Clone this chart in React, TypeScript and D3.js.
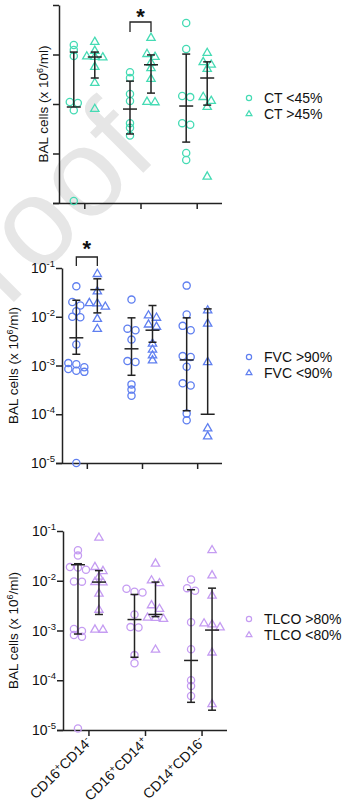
import React, { useEffect, useRef } from "react";
import * as d3 from "d3";

// categories on the x axis (text, superscript, text, superscript)
const categories = ["CD16+CD14-", "CD16+CD14+", "CD14+CD16-"];
const categoryParts = [
  ["CD16", "+", "CD14", "-"],
  ["CD16", "+", "CD14", "+"],
  ["CD14", "+", "CD16", "-"],
];
const yTicks = [1e-5, 1e-4, 1e-3, 1e-2, 1e-1];
const yTickExp = ["-5", "-4", "-3", "-2", "-1"];

// CT panel
const ctLowValues = [
  [0.0156, 0.0123, 0.0093, 0.0011, 0.00105, 0.00075, 0.000011],
  [0.0044, 0.00335, 0.00159, 0.00115, 0.00041, 0.00033, 0.00023],
  [0.0433, 0.0129, 0.00145, 0.00138, 0.00041, 0.00038, 0.000102, 0.000074],
];
const ctLowMean = [0.00087, 0.00079, 0.00091];
const ctLowUpper = [0.0112, 0.0029, 0.0102];
const ctLowLower = [null, 0.000248, 0.00017];

const ctHighValues = [
  [0.0179, 0.0118, 0.0091, 0.0089, 0.0087, 0.0056, 0.00265, 0.00079],
  [0.0216, 0.0102, 0.0089, 0.0068, 0.0053, 0.0032, 0.0011, 0.00108],
  [0.0107, 0.007, 0.0062, 0.0051, 0.00138, 0.00115, 0.00087, 0.000034],
];
const ctHighMean = [0.0089, 0.0062, 0.00335];
const ctHighUpper = [0.0112, 0.0098, 0.0071];
const ctHighLower = [0.00335, 0.00166, 0.00095];

// FVC panel
const fvcHighValues = [
  [0.042, 0.02, 0.017, 0.013, 0.01, 0.0098, 0.0027, 0.00112, 0.00106, 0.00092, 0.00085, 0.00078, 0.00074, 0.00001],
  [0.0225, 0.0057, 0.0053, 0.0034, 0.00123, 0.00118, 0.00041, 0.00032, 0.00024],
  [0.0435, 0.0111, 0.0065, 0.0053, 0.00156, 0.0015, 0.00094, 0.00043, 0.00039, 0.000103, 0.000075],
];
const fvcHighMean = [0.0037, 0.0022, 0.0013];
const fvcHighUpper = [0.0218, 0.0095, 0.0095];
const fvcHighLower = [0.0017, 0.00063, 0.000118];

const fvcLowValues = [
  [0.075, 0.033, 0.019, 0.0187, 0.016, 0.009, 0.0056],
  [0.0106, 0.0095, 0.0069, 0.0062, 0.0028, 0.0021, 0.0016, 0.00127],
  [0.0134, 0.0072, 0.00117, 0.000051, 0.000035],
];
const fvcLowMean = [0.036, 0.0053, 0.0001];
const fvcLowUpper = [0.06, 0.017, 0.0145];
const fvcLowLower = [0.012, 0.003, null];

// TLCO panel
const tlcoHighValues = [
  [0.041, 0.032, 0.0188, 0.0185, 0.0166, 0.0097, 0.0096, 0.00107, 0.00098, 0.00081, 0.00075, 0.0000107],
  [0.0069, 0.006, 0.0058, 0.0021, 0.00117, 0.00115, 0.00032, 0.00022],
  [0.0106, 0.0071, 0.0063, 0.00146, 0.00042, 0.0001, 0.000077, 0.0000484],
];
const tlcoHighMean = [0.021, 0.00166, 0.00025];
const tlcoHighUpper = [0.022, 0.0053, 0.0066];
const tlcoHighLower = [0.00085, 0.00029, 0.000036];

const tlcoLowValues = [
  [0.073, 0.0188, 0.0156, 0.012, 0.0094, 0.0092, 0.0055, 0.0026, 0.00104, 0.00103],
  [0.022, 0.0101, 0.0089, 0.0032, 0.0027, 0.0018, 0.00178, 0.0017, 0.00041],
  [0.041, 0.0128, 0.005, 0.00138, 0.00132, 0.00115, 0.00036, 0.000033],
];
const tlcoLowMean = [0.0094, 0.0021, 0.00102];
const tlcoLowUpper = [0.016, 0.0094, 0.0071];
const tlcoLowLower = [0.0021, 0.0019, 0.000025];

const panels = [
  {
    top: 5, bottom: 203, left: 59, right: 222, color: "#45dbb4",
    tickLabels: false, xLabels: false, yLabelX: 43,
    legendY: 98, star: 1, bracketTop: 22, bracketBottom: 32, starY: 12,
    series: [
      { label: "CT <45%", shape: "circle", values: ctLowValues, mean: ctLowMean, upper: ctLowUpper, lower: ctLowLower },
      { label: "CT >45%", shape: "triangle", values: ctHighValues, mean: ctHighMean, upper: ctHighUpper, lower: ctHighLower },
    ],
  },
  {
    top: 268, bottom: 463, left: 62, right: 222, color: "#5f7ff0",
    tickLabels: true, xLabels: false, yLabelX: 13,
    legendY: 357, star: 0, bracketTop: 257, bracketBottom: 266, starY: 244,
    series: [
      { label: "FVC >90%", shape: "circle", values: fvcHighValues, mean: fvcHighMean, upper: fvcHighUpper, lower: fvcHighLower },
      { label: "FVC <90%", shape: "triangle", values: fvcLowValues, mean: fvcLowMean, upper: fvcLowUpper, lower: fvcLowLower },
    ],
  },
  {
    top: 531, bottom: 730, left: 63, right: 227, color: "#c59cf2",
    tickLabels: true, xLabels: true, yLabelX: 13,
    legendY: 619, star: null, bracketTop: 0, bracketBottom: 0, starY: 0,
    series: [
      { label: "TLCO >80%", shape: "circle", values: tlcoHighValues, mean: tlcoHighMean, upper: tlcoHighUpper, lower: tlcoHighLower },
      { label: "TLCO <80%", shape: "triangle", values: tlcoLowValues, mean: tlcoLowMean, upper: tlcoLowUpper, lower: tlcoLowLower },
    ],
  },
];

const FONT = "'Liberation Sans', Arial, Helvetica, sans-serif";
const INK = "#222";

// points that sit at about the same height are spread side by side
function spread(ys: number[], gap: number, thresh: number) {
  const idx = ys.map((_, i) => i).sort((a, b) => ys[a] - ys[b]);
  const off = new Array(ys.length).fill(0);
  let row: number[] = [];
  const flush = () => {
    row.forEach((k, j) => (off[k] = (j - (row.length - 1) / 2) * gap));
    row = [];
  };
  idx.forEach((k) => {
    if (row.length && ys[k] - ys[row[0]] > thresh) flush();
    row.push(k);
  });
  flush();
  return off;
}

const App = () => {
  const ref = useRef<SVGSVGElement>(null);

  useEffect(() => {
    const svg = d3.select(ref.current);
    svg.selectAll("*").remove();

    // watermark
    svg
      .append("text")
      .attr("transform", "translate(160,156) rotate(-45)")
      .attr("text-anchor", "end")
      .style("font-family", FONT)
      .style("font-size", "125px")
      .attr("fill", "#e6e6e6")
      .text("Pre-proof");

    panels.forEach((p: any) => {
      const g = svg.append("g");
      const y = d3.scaleLog().domain([1e-5, 1e-1]).range([p.bottom, p.top]);
      const x: any = d3.scalePoint().domain(categories).range([p.left, p.right]).padding(0.45);
      const sub: any = d3.scalePoint().domain(["0", "1"]).range([-10.5, 10.5]);

      // axes
      const yAxis = g
        .append("g")
        .attr("transform", `translate(${p.left},0)`)
        .call(d3.axisLeft(y).tickValues(yTicks).tickSize(6).tickSizeOuter(0).tickFormat(() => ""));
      const xAxis = g
        .append("g")
        .attr("transform", `translate(0,${p.bottom})`)
        .call(d3.axisBottom(x).tickSize(6).tickSizeOuter(0).tickFormat(() => ""));
      [yAxis, xAxis].forEach((a) => {
        a.selectAll("path,line").attr("stroke", INK).attr("stroke-width", 1.5);
      });
      xAxis.select(".domain").attr("d", `M${p.left - 6},0.5H${p.right}`);

      if (p.tickLabels) {
        yTicks.forEach((t, i) => {
          const tx = g
            .append("text")
            .attr("x", p.left - 7)
            .attr("y", y(t) + 5)
            .attr("text-anchor", "end")
            .style("font-family", FONT)
            .style("font-size", "14px")
            .attr("fill", "#111");
          tx.append("tspan").text("10");
          tx.append("tspan").attr("dy", -6).style("font-size", "9.5px").text(yTickExp[i]);
        });
      }

      // y label
      const yl = g
        .append("text")
        .attr("transform", `translate(${p.yLabelX + 5},${(p.top + p.bottom) / 2}) rotate(-90)`)
        .attr("text-anchor", "middle")
        .style("font-family", FONT)
        .style("font-size", "13.5px")
        .attr("fill", "#111");
      yl.append("tspan").text("BAL cells (x 10");
      yl.append("tspan").attr("dy", -5).style("font-size", "9px").text("6");
      yl.append("tspan").attr("dy", 5).text("/ml)");

      // x labels
      if (p.xLabels) {
        categoryParts.forEach((parts, ci) => {
          const tx = g
            .append("text")
            .attr("transform", `translate(${x(categories[ci]) + 4},${p.bottom + 13}) rotate(-45)`)
            .attr("text-anchor", "end")
            .style("font-family", FONT)
            .style("font-size", "14px")
            .attr("fill", "#111");
          tx.append("tspan").text(parts[0]);
          tx.append("tspan").attr("dy", -5).style("font-size", "9.5px").text(parts[1]);
          tx.append("tspan").attr("dy", 5).text(parts[2]);
          tx.append("tspan").attr("dy", -5).style("font-size", "9.5px").text(parts[3]);
        });
      }

      // points and error bars
      p.series.forEach((s: any, si: number) => {
        categories.forEach((c, ci) => {
          const cx = x(c) + sub(String(si));
          const vals: number[] = s.values[ci];
          const ys = vals.map((v) => y(v));
          const offs = spread(ys, 8, 4.5);
          vals.forEach((v, k) => {
            if (s.shape === "circle") {
              g.append("circle")
                .attr("cx", cx + offs[k])
                .attr("cy", ys[k])
                .attr("r", 3.6)
                .attr("fill", "none")
                .attr("stroke", p.color)
                .attr("stroke-width", 1.3);
            } else {
              g.append("path")
                .attr("d", d3.symbol(d3.symbolTriangle, 30)())
                .attr("transform", `translate(${cx + offs[k]},${ys[k]})`)
                .attr("fill", "none")
                .attr("stroke", p.color)
                .attr("stroke-width", 1.3);
            }
          });
          const yU = y(s.upper[ci]);
          const yM = y(s.mean[ci]);
          const yL = s.lower[ci] == null ? yM : y(s.lower[ci]);
          const eb = g.append("g").attr("stroke", INK).attr("stroke-width", 1.5);
          eb.append("line").attr("x1", cx).attr("x2", cx).attr("y1", yU).attr("y2", yL);
          eb.append("line").attr("x1", cx - 4).attr("x2", cx + 4).attr("y1", yU).attr("y2", yU);
          if (s.lower[ci] != null)
            eb.append("line").attr("x1", cx - 4).attr("x2", cx + 4).attr("y1", yL).attr("y2", yL);
          eb.append("line").attr("x1", cx - 7).attr("x2", cx + 7).attr("y1", yM).attr("y2", yM);
        });
      });

      // significance bracket
      if (p.star != null) {
        const c = categories[p.star];
        const x0 = x(c) + sub("0");
        const x1 = x(c) + sub("1");
        g.append("path")
          .attr("d", `M${x0},${p.bracketBottom}V${p.bracketTop}H${x1}V${p.bracketBottom}`)
          .attr("fill", "none")
          .attr("stroke", INK)
          .attr("stroke-width", 1.3);
        g.append("text")
          .attr("x", (x0 + x1) / 2)
          .attr("y", p.starY + 12)
          .attr("text-anchor", "middle")
          .style("font-family", FONT)
          .style("font-size", "22px")
          .style("font-weight", "bold")
          .attr("fill", "#111")
          .text("*");
      }

      // legend
      p.series.forEach((s: any, si: number) => {
        const ly = p.legendY + si * 16;
        if (s.shape === "circle") {
          g.append("circle").attr("cx", 249).attr("cy", ly).attr("r", 2.6)
            .attr("fill", "none").attr("stroke", p.color).attr("stroke-width", 1.2);
        } else {
          g.append("path").attr("d", d3.symbol(d3.symbolTriangle, 15)())
            .attr("transform", `translate(249,${ly})`)
            .attr("fill", "none").attr("stroke", p.color).attr("stroke-width", 1.2);
        }
        g.append("text")
          .attr("x", 264)
          .attr("y", ly + 5)
          .style("font-family", FONT)
          .style("font-size", "14px")
          .attr("fill", "#111")
          .text(s.label);
      });
    });
  }, []);

  return (
    <svg
      ref={ref}
      width={359}
      height={812}
      style={{ position: "absolute", left: 0, top: 0, background: "#fff" }}
    ></svg>
  );
};

export default App;
